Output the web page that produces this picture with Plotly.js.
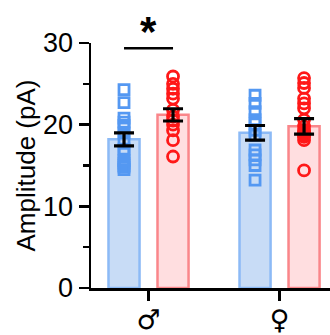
<!DOCTYPE html>
<html>
<head>
<meta charset="utf-8">
<script src="https://cdn.plot.ly/plotly-3.0.1.min.js"></script>
<style>html,body{margin:0;padding:0;background:#fff;}#chart{width:330px;height:335px;}</style>
</head>
<body>
<div id="chart"></div>
<script>
// Categories (sex) and values
const categories = ['\u2642', '\u2640'];
const blueMeans = [18.2, 19.0];
const blueSem = [0.8, 0.9];
const pinkMeans = [21.2, 19.8];
const pinkSem = [0.75, 0.95];
const blueMale = [24.3, 22.7, 20.8, 20.3, 19.9, 19.0, 18.0, 17.0, 16.5, 15.6, 15.3, 15.0, 14.8, 14.5];
const pinkMale = [25.9, 25.0, 24.4, 23.8, 23.2, 21.8, 21.0, 20.5, 20.0, 19.3, 18.1, 16.1];
const blueFemale = [23.6, 22.6, 21.6, 20.6, 20.1, 19.3, 18.7, 16.9, 16.3, 15.7, 15.0, 13.2];
const pinkFemale = [25.7, 25.1, 24.5, 23.2, 22.6, 22.0, 20.6, 19.8, 19.3, 19.1, 18.9, 18.7, 18.5, 18.1, 14.4];
const yTicks = [0, 10, 20, 30];

const off = 0.187, bw = 0.237;
const idx = categories.map((c, i) => i);
const blueX = idx.map(i => i - off);
const pinkX = idx.map(i => i + off);

const blueFill = 'rgb(200,220,246)', blueEdge = 'rgb(140,186,246)', blueMk = 'rgb(84,152,242)';
const pinkFill = 'rgb(255,222,224)', pinkEdge = 'rgb(250,134,138)', pinkMk = 'rgb(255,24,24)';

function pts(vals, x) { return vals.map(() => x); }

const traces = [
  {type:'bar', x: blueX, y: blueMeans, width: bw, marker:{color: blueFill, line:{color: blueEdge, width: 2.5}}, hoverinfo:'skip'},
  {type:'bar', x: pinkX, y: pinkMeans, width: bw, marker:{color: pinkFill, line:{color: pinkEdge, width: 2.5}}, hoverinfo:'skip'},
  {type:'scatter', mode:'markers', x: pts(blueMale, blueX[0]), y: blueMale, marker:{symbol:'square-open', size:10, color: blueMk, line:{width:2.8}}, cliponaxis:false},
  {type:'scatter', mode:'markers', x: pts(blueFemale, blueX[1]), y: blueFemale, marker:{symbol:'square-open', size:10, color: blueMk, line:{width:2.8}}, cliponaxis:false},
  {type:'scatter', mode:'markers', x: pts(pinkMale, pinkX[0]), y: pinkMale, marker:{symbol:'circle-open', size:11, color: pinkMk, line:{width:2.8}}, cliponaxis:false},
  {type:'scatter', mode:'markers', x: pts(pinkFemale, pinkX[1]), y: pinkFemale, marker:{symbol:'circle-open', size:11, color: pinkMk, line:{width:2.8}}, cliponaxis:false},
  {type:'scatter', mode:'markers', x: blueX, y: blueMeans, marker:{size:1, opacity:0}, error_y:{type:'data', array: blueSem, color:'black', thickness:3.2, width:10}, hoverinfo:'skip'},
  {type:'scatter', mode:'markers', x: pinkX, y: pinkMeans, marker:{size:1, opacity:0}, error_y:{type:'data', array: pinkSem, color:'black', thickness:3.2, width:10}, hoverinfo:'skip'}
];

const layout = {
  width: 330, height: 335,
  margin: {l: 91, r: 0, t: 43, b: 47},
  showlegend: false,
  plot_bgcolor: 'white', paper_bgcolor: 'white',
  font: {family: 'Arial, Liberation Sans, sans-serif', color: 'black'},
  xaxis: {
    range: [-0.439, 1.385], tickvals: idx, ticktext: categories.map(c => '<b>' + c + '</b>'),
    showline: true, linecolor: 'black', linewidth: 2.5,
    ticks: 'outside', ticklen: 10, tickwidth: 2.5, tickcolor: 'black',
    tickfont: {size: 27, family: 'DejaVu Sans'},
    ticklabelstandoff: -4,
    showgrid: false, zeroline: false, fixedrange: true
  },
  yaxis: {
    range: [0, 30], tickvals: yTicks,
    showline: true, linecolor: 'black', linewidth: 2.5,
    ticks: 'outside', ticklen: 10, tickwidth: 2.5, tickcolor: 'black',
    minor: {dtick: 5, ticks: 'outside', ticklen: 6, tickwidth: 2.5, tickcolor: 'black', showgrid: false},
    tickfont: {size: 27},
    title: {text: 'Amplitude (pA)', font: {size: 26}, standoff: 0},
    showgrid: false, zeroline: false, fixedrange: true
  },
  shapes: [
    {type: 'line', xref: 'x', yref: 'y', x0: blueX[0], x1: pinkX[0], y0: 29.35, y1: 29.35, line: {color: 'black', width: 2.5}}
  ],
  annotations: [
    {xref: 'x', yref: 'paper', x: idx[0], y: 1.045, text: '<b>*</b>', showarrow: false, yanchor: 'middle', font: {size: 42, color: 'black'}}
  ]
};

Plotly.newPlot('chart', traces, layout, {staticPlot: true, displayModeBar: false});
</script>
</body>
</html>
